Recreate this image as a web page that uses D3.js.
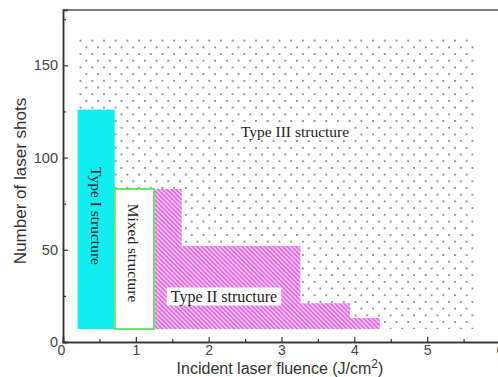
<!DOCTYPE html>
<html>
<head>
<meta charset="utf-8">
<script src="https://cdn.jsdelivr.net/npm/d3@7"></script>
<style>
  html, body { margin: 0; padding: 0; background: #fff; }
  svg { display: block; }
</style>
</head>
<body>
<svg id="chart" width="498" height="377"></svg>
<script>
// Processing map: laser fluence vs. number of shots
const xTicks = [0, 1, 2, 3, 4, 5, 6];
const yTicks = [0, 50, 100, 150];
const xMinor = [0.5, 1.5, 2.5, 3.5, 4.5, 5.5];
const yMinor = [25, 75, 125, 175];

// Region extents: [fluence from, fluence to], [shots from, shots to]
const typeIIIFluence = [0.2, 5.64];
const typeIIIShots = [7, 165];
const typeIFluence = [0.2, 0.71];
const typeIShots = [7, 126];
const mixedFluence = [0.71, 1.25];
const mixedShots = [7, 83];
// Type II is a staircase: step edges along fluence and the shot count on each step
const typeIIEdges = [1.25, 1.63, 3.26, 3.94, 4.35];
const typeIIHeights = [83, 52, 21, 13];
const typeIIBase = 7;

const labels = ["Type I structure", "Mixed structure", "Type II structure", "Type III structure"];

const svg = d3.select("#chart");
const x = d3.scaleLinear().domain([0, 6]).range([63, 500]);
const y = d3.scaleLinear().domain([0, 180]).range([342, 10]);

const defs = svg.append("defs");
// staggered dot fill
const dots = defs.append("pattern").attr("id", "dots")
  .attr("patternUnits", "userSpaceOnUse")
  .attr("width", 11.7).attr("height", 13.4)
  .attr("x", x(typeIIIFluence[0]) + 2).attr("y", y(typeIIIShots[1]) + 2);
dots.append("circle").attr("cx", 1).attr("cy", 1).attr("r", 1).attr("fill", "#777");
dots.append("circle").attr("cx", 6.85).attr("cy", 7.7).attr("r", 1).attr("fill", "#777");

// diagonal hatch fill
const hatch = defs.append("pattern").attr("id", "hatch")
  .attr("patternUnits", "userSpaceOnUse")
  .attr("width", 4.5).attr("height", 4.5);
hatch.append("rect").attr("width", 4.5).attr("height", 4.5).attr("fill", "#f5cff5");
hatch.append("path")
  .attr("d", "M0,0 L4.5,4.5 M-1,3.5 L1,5.5 M3.5,-1 L5.5,1")
  .attr("stroke", "#e05ae0").attr("stroke-width", 1.5);

const serif = "'Liberation Serif', 'Times New Roman', serif";
const sans = "'Liberation Sans', Arial, Helvetica, sans-serif";

// Type III background region
svg.append("rect")
  .attr("x", x(typeIIIFluence[0])).attr("y", y(typeIIIShots[1]))
  .attr("width", x(typeIIIFluence[1]) - x(typeIIIFluence[0]))
  .attr("height", y(typeIIIShots[0]) - y(typeIIIShots[1]))
  .attr("fill", "url(#dots)");

// Type II staircase
const pts = [[typeIIEdges[0], typeIIBase]];
typeIIHeights.forEach((h, i) => {
  pts.push([typeIIEdges[i], h]);
  pts.push([typeIIEdges[i + 1], h]);
});
pts.push([typeIIEdges[typeIIEdges.length - 1], typeIIBase]);
svg.append("path")
  .attr("d", d3.line().x(d => x(d[0])).y(d => y(d[1]))(pts) + "Z")
  .attr("fill", "url(#hatch)");

// Type I region
svg.append("rect")
  .attr("x", x(typeIFluence[0])).attr("y", y(typeIShots[1]))
  .attr("width", x(typeIFluence[1]) - x(typeIFluence[0]))
  .attr("height", y(typeIShots[0]) - y(typeIShots[1]))
  .attr("fill", "#12eef0");

// Mixed region
svg.append("rect")
  .attr("x", x(mixedFluence[0])).attr("y", y(mixedShots[1]))
  .attr("width", x(mixedFluence[1]) - x(mixedFluence[0]))
  .attr("height", y(mixedShots[0]) - y(mixedShots[1]))
  .attr("fill", "#fff").attr("stroke", "#66e066").attr("stroke-width", 2);

// region labels
function vLabel(text, cx, cy, size) {
  svg.append("text")
    .attr("transform", `translate(${cx},${cy}) rotate(90)`)
    .attr("text-anchor", "middle").attr("dominant-baseline", "central")
    .attr("font-family", serif).attr("font-size", size).attr("fill", "#222")
    .text(text);
}
vLabel(labels[0], (x(typeIFluence[0]) + x(typeIFluence[1])) / 2, 216, 15.5);
vLabel(labels[1], (x(mixedFluence[0]) + x(mixedFluence[1])) / 2 - 1, 253, 15.5);

function hLabel(text, cx, cy, size) {
  const g = svg.append("g");
  const t = g.append("text")
    .attr("x", cx).attr("y", cy)
    .attr("text-anchor", "middle").attr("dominant-baseline", "central")
    .attr("font-family", serif).attr("font-size", size).attr("fill", "#222")
    .text(text);
  const b = t.node().getBBox();
  g.insert("rect", "text")
    .attr("x", b.x - 4).attr("y", b.y).attr("width", b.width + 8).attr("height", b.height)
    .attr("fill", "#fff");
}
hLabel(labels[2], 224, 296, 16);
hLabel(labels[3], 295, 131, 15.5);

// frame top line
svg.append("line")
  .attr("x1", x(0)).attr("x2", x(6)).attr("y1", y(180)).attr("y2", y(180))
  .attr("stroke", "#555").attr("stroke-width", 1.5);

// axes
const xAxis = svg.append("g").attr("transform", `translate(0,${y(0)})`)
  .call(d3.axisBottom(x).tickValues(xTicks).tickSize(-5).tickPadding(3).tickFormat(d3.format("d")));
const xAxisMinor = svg.append("g").attr("transform", `translate(0,${y(0)})`)
  .call(d3.axisBottom(x).tickValues(xMinor).tickSize(-3).tickFormat(""));
const yAxis = svg.append("g").attr("transform", `translate(${x(0)},0)`)
  .call(d3.axisLeft(y).tickValues(yTicks).tickSize(-5).tickPadding(5).tickFormat(d3.format("d")));
const yAxisMinor = svg.append("g").attr("transform", `translate(${x(0)},0)`)
  .call(d3.axisLeft(y).tickValues(yMinor).tickSize(-3).tickFormat(""));

[xAxis, xAxisMinor, yAxis, yAxisMinor].forEach(a => {
  a.select(".domain").attr("stroke", "#333").attr("stroke-width", 1.5);
  a.selectAll(".tick line").attr("stroke", "#333").attr("stroke-width", 1.2);
  a.selectAll("text").attr("font-family", sans).attr("font-size", 14.5).attr("fill", "#444");
});
xAxis.selectAll(".tick text").attr("font-size", 14);
xAxis.selectAll(".tick text").filter(d => d === 0).attr("dx", -2);

// axis titles
const xt = svg.append("text")
  .attr("x", 280).attr("y", 373.5).attr("text-anchor", "middle")
  .attr("font-family", sans).attr("font-size", 16).attr("fill", "#333");
xt.append("tspan").text("Incident laser fluence (J/cm");
xt.append("tspan").attr("dy", -6).attr("font-size", 12).text("2");
xt.append("tspan").attr("dy", 6).text(")");

svg.append("text")
  .attr("transform", "translate(26,181) rotate(-90)")
  .attr("text-anchor", "middle")
  .attr("font-family", sans).attr("font-size", 17).attr("fill", "#333")
  .text("Number of laser shots");
</script>
</body>
</html>
